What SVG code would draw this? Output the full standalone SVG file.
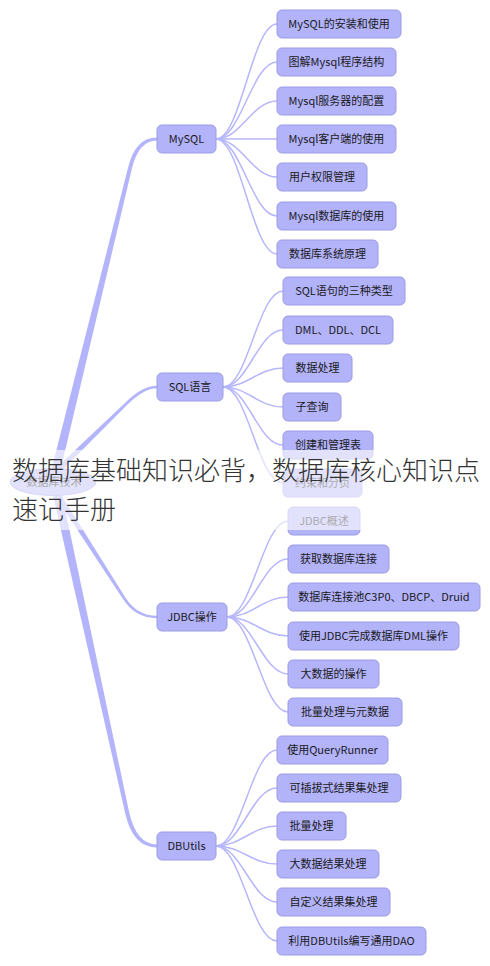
<svg xmlns="http://www.w3.org/2000/svg" width="490" height="966" viewBox="0 0 490 966">
<style>
.n rect{fill:#b3b3fa;stroke:#9c9ce4;stroke-width:1}
.n text{font-family:"Noto Sans CJK SC","Liberation Sans",sans-serif;font-size:11px;fill:#1a1a22;text-anchor:middle}
.c path{fill:none;stroke:#b6b6fc;stroke-width:1.5}
.b path{fill:#b4b4fc;stroke:none}
.title{font-family:"Noto Sans CJK SC","Liberation Sans",sans-serif;font-size:26px;font-weight:300;fill:#333333}
</style>
<rect width="490" height="966" fill="#ffffff"/>
<g id="connectors">
<g class="b">
<path d="M49.6 476.9 L128.1 167.5 Q135.4 137.6 157 137.6 L157 140.4 Q138.6 140.4 131.9 168.5 L58.4 479.1 Z"/>
<path d="M47.9 475.8 L125 403 Q142 385.8 157 385.8 L157 388.2 Q144 388.2 127 405 L52.1 480.2 Z"/>
<path d="M54.5 484.4 L125.2 597.2 Q137 615.8 157 615.8 L157 618.2 Q135 618.2 122.8 598.8 L49.5 487.6 Z"/>
<path d="M60.4 487 L129 811.6 Q136.3 844.6 157 844.6 L157 847.4 Q132.7 847.4 125 812.4 L51.6 489 Z"/>
</g>
<g class="c">
<path d="M216 139 C241 139 252 24 277 24"/>
<path d="M216 139 C241 139 252 62 277 62"/>
<path d="M216 139 C241 139 252 101 277 101"/>
<path d="M216 139 L277 139"/>
<path d="M216 139 C241 139 252 177 277 177"/>
<path d="M216 139 C241 139 252 216 277 216"/>
<path d="M216 139 C241 139 252 254 277 254"/>
<path d="M223 387 C248 387 258 291 283 291"/>
<path d="M223 387 C248 387 258 330 283 330"/>
<path d="M223 387 C248 387 258 368 283 368"/>
<path d="M223 387 C248 387 258 407 283 407"/>
<path d="M223 387 C248 387 258 445 283 445"/>
<path d="M223 387 C248 387 258 483 283 483"/>
<path d="M227 617 C252 617 263 521 288 521"/>
<path d="M227 617 C252 617 263 559 288 559"/>
<path d="M227 617 C252 617 263 597 288 597"/>
<path d="M227 617 C252 617 263 636 288 636"/>
<path d="M227 617 C252 617 263 674 288 674"/>
<path d="M227 617 C252 617 263 712 288 712"/>
<path d="M216 846 C241 846 252 750 277 750"/>
<path d="M216 846 C241 846 252 788 277 788"/>
<path d="M216 846 C241 846 252 826 277 826"/>
<path d="M216 846 C241 846 252 864 277 864"/>
<path d="M216 846 C241 846 252 902 277 902"/>
<path d="M216 846 C241 846 252 941 277 941"/>
</g>
</g>
<g id="root" class="n"><ellipse cx="53" cy="482" rx="43" ry="13.5" fill="#b3b3fa" stroke="#9c9ce4"/><text x="54" y="486">数据库技术</text></g>
<g id="mysql" class="n"><rect x="157" y="125" width="59" height="28" rx="5"/><text x="186.5" y="143">MySQL</text></g>
<g id="m1" class="n"><rect x="277" y="10" width="124" height="28" rx="5"/><text x="339" y="28">MySQL的安装和使用</text></g>
<g id="m2" class="n"><rect x="277" y="48" width="119" height="28" rx="5"/><text x="336.5" y="66">图解Mysql程序结构</text></g>
<g id="m3" class="n"><rect x="277" y="87" width="119" height="28" rx="5"/><text x="336.5" y="105">Mysql服务器的配置</text></g>
<g id="m4" class="n"><rect x="277" y="125" width="119" height="28" rx="5"/><text x="336.5" y="143">Mysql客户端的使用</text></g>
<g id="m5" class="n"><rect x="277" y="163" width="90" height="28" rx="5"/><text x="322" y="181">用户权限管理</text></g>
<g id="m6" class="n"><rect x="277" y="202" width="119" height="28" rx="5"/><text x="336.5" y="220">Mysql数据库的使用</text></g>
<g id="m7" class="n"><rect x="277" y="240" width="101" height="28" rx="5"/><text x="327.5" y="258">数据库系统原理</text></g>
<g id="sql" class="n"><rect x="157" y="373" width="66" height="28" rx="5"/><text x="190" y="391">SQL语言</text></g>
<g id="s1" class="n"><rect x="283" y="277" width="122" height="28" rx="5"/><text x="344" y="295">SQL语句的三种类型</text></g>
<g id="s2" class="n"><rect x="283" y="316" width="110" height="28" rx="5"/><text x="338" y="334">DML、DDL、DCL</text></g>
<g id="s3" class="n"><rect x="283" y="354" width="69" height="28" rx="5"/><text x="317.5" y="372">数据处理</text></g>
<g id="s4" class="n"><rect x="283" y="393" width="58" height="28" rx="5"/><text x="312" y="411">子查询</text></g>
<g id="s5" class="n"><rect x="283" y="431" width="90" height="28" rx="5"/><text x="328" y="449">创建和管理表</text></g>
<g id="s6" class="n"><rect x="283" y="469" width="79" height="28" rx="5"/><text x="322.5" y="487">约束和分页</text></g>
<g id="jdbc" class="n"><rect x="157" y="603" width="70" height="28" rx="5"/><text x="192" y="621">JDBC操作</text></g>
<g id="j1" class="n"><rect x="288" y="507" width="72" height="28" rx="5"/><text x="324" y="525">JDBC概述</text></g>
<g id="j2" class="n"><rect x="288" y="545" width="101" height="28" rx="5"/><text x="338.5" y="563">获取数据库连接</text></g>
<g id="j3" class="n"><rect x="288" y="583" width="192" height="28" rx="5"/><text x="384" y="601">数据库连接池C3P0、DBCP、Druid</text></g>
<g id="j4" class="n"><rect x="288" y="622" width="171" height="28" rx="5"/><text x="373.5" y="640">使用JDBC完成数据库DML操作</text></g>
<g id="j5" class="n"><rect x="288" y="660" width="91" height="28" rx="5"/><text x="333.5" y="678">大数据的操作</text></g>
<g id="j6" class="n"><rect x="288" y="698" width="114" height="28" rx="5"/><text x="345" y="716">批量处理与元数据</text></g>
<g id="dbutils" class="n"><rect x="157" y="832" width="59" height="28" rx="5"/><text x="186.5" y="850">DBUtils</text></g>
<g id="d1" class="n"><rect x="277" y="736" width="111" height="28" rx="5"/><text x="332.5" y="754">使用QueryRunner</text></g>
<g id="d2" class="n"><rect x="277" y="774" width="124" height="28" rx="5"/><text x="339" y="792">可插拔式结果集处理</text></g>
<g id="d3" class="n"><rect x="277" y="812" width="69" height="28" rx="5"/><text x="311.5" y="830">批量处理</text></g>
<g id="d4" class="n"><rect x="277" y="850" width="102" height="28" rx="5"/><text x="328" y="868">大数据结果处理</text></g>
<g id="d5" class="n"><rect x="277" y="888" width="113" height="28" rx="5"/><text x="333.5" y="906">自定义结果集处理</text></g>
<g id="d6" class="n"><rect x="277" y="927" width="149" height="28" rx="5"/><text x="351.5" y="945">利用DBUtils编写通用DAO</text></g>
<rect id="overlay" x="0" y="450" width="490" height="80" fill="#ffffff" fill-opacity="0.62"/>
<g id="title">
<text class="title" x="12" y="480">数据库基础知识必背，数据库核心知识点</text>
<text class="title" x="12" y="519">速记手册</text>
</g>
</svg>
